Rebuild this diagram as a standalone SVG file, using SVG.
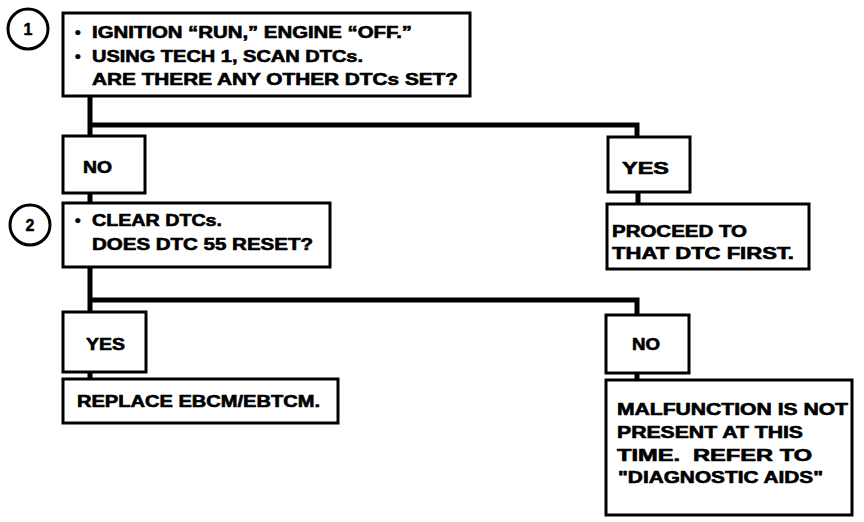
<svg xmlns="http://www.w3.org/2000/svg" width="864" height="522" viewBox="0 0 864 522">
<style>
.box{fill:#fff;stroke:#000;stroke-width:3}
.con{fill:none;stroke:#000;stroke-width:5;stroke-linejoin:miter}
.t{font-family:"Liberation Sans",Arial,sans-serif;font-weight:bold;font-size:16px;fill:#000;stroke:#000;stroke-width:0.6}
.num{font-family:"Liberation Sans",Arial,sans-serif;font-weight:bold;font-size:16px;fill:#000;stroke:#000;stroke-width:0.5;text-anchor:middle}
.circ{fill:#fff;stroke:#000;stroke-width:3}
</style>
<rect width="864" height="522" fill="#fff"/>
<g id="connectors">
<path class="con" d="M90,96 V136 M90,125 H637 V136"/>
<path class="con" d="M90,193 V203"/>
<path class="con" d="M638,192 V204"/>
<path class="con" d="M90,267 V312 M90,300 H637 V315"/>
<path class="con" d="M90,372 V379"/>
<path class="con" d="M637,373 V380"/>
</g>
<g id="step1">
<circle class="circ" cx="28" cy="29" r="20"/>
<text class="num" x="28" y="35">1</text>
</g>
<g id="box1">
<rect class="box" x="63" y="13" width="407" height="83"/>
<text class="t" x="75" y="38">•</text>
<text class="t" x="92" y="38" textLength="320" lengthAdjust="spacingAndGlyphs">IGNITION “RUN,” ENGINE “OFF.”</text>
<text class="t" x="75" y="62">•</text>
<text class="t" x="92" y="62" textLength="271" lengthAdjust="spacingAndGlyphs">USING TECH 1, SCAN DTCs.</text>
<text class="t" x="92" y="85" textLength="366" lengthAdjust="spacingAndGlyphs">ARE THERE ANY OTHER DTCs SET?</text>
</g>
<g id="no1">
<rect class="box" x="63" y="136" width="82" height="57"/>
<text class="t" x="83" y="173" textLength="29" lengthAdjust="spacingAndGlyphs">NO</text>
</g>
<g id="yes1">
<rect class="box" x="608" y="137" width="82" height="55"/>
<text class="t" x="622" y="174" textLength="47" lengthAdjust="spacingAndGlyphs">YES</text>
</g>
<g id="proceed">
<rect class="box" x="607" y="204" width="202" height="65"/>
<text class="t" x="612" y="237" textLength="135" lengthAdjust="spacingAndGlyphs">PROCEED TO</text>
<text class="t" x="612" y="259" textLength="182" lengthAdjust="spacingAndGlyphs">THAT DTC FIRST.</text>
</g>
<g id="step2">
<circle class="circ" cx="30" cy="225" r="20"/>
<text class="num" x="30" y="231">2</text>
</g>
<g id="box2">
<rect class="box" x="63" y="203" width="267" height="64"/>
<text class="t" x="75" y="226">•</text>
<text class="t" x="92" y="226" textLength="130" lengthAdjust="spacingAndGlyphs">CLEAR DTCs.</text>
<text class="t" x="92" y="250" textLength="221" lengthAdjust="spacingAndGlyphs">DOES DTC 55 RESET?</text>
</g>
<g id="yes2">
<rect class="box" x="63" y="312" width="83" height="60"/>
<text class="t" x="86" y="350" textLength="39" lengthAdjust="spacingAndGlyphs">YES</text>
</g>
<g id="replace">
<rect class="box" x="63" y="379" width="275" height="44"/>
<text class="t" x="77" y="407" textLength="243" lengthAdjust="spacingAndGlyphs">REPLACE EBCM/EBTCM.</text>
</g>
<g id="no2">
<rect class="box" x="606" y="315" width="83" height="58"/>
<text class="t" x="632" y="350" textLength="28" lengthAdjust="spacingAndGlyphs">NO</text>
</g>
<g id="malfunction">
<rect class="box" x="606" y="380" width="246" height="135"/>
<text class="t" x="617" y="415" textLength="231" lengthAdjust="spacingAndGlyphs">MALFUNCTION IS NOT</text>
<text class="t" x="617" y="438" textLength="186" lengthAdjust="spacingAndGlyphs">PRESENT AT THIS</text>
<text class="t" x="617" y="461" textLength="195" lengthAdjust="spacingAndGlyphs" xml:space="preserve">TIME.  REFER TO</text>
<text class="t" x="618" y="483" textLength="205" lengthAdjust="spacingAndGlyphs">"DIAGNOSTIC AIDS"</text>
</g>
</svg>
